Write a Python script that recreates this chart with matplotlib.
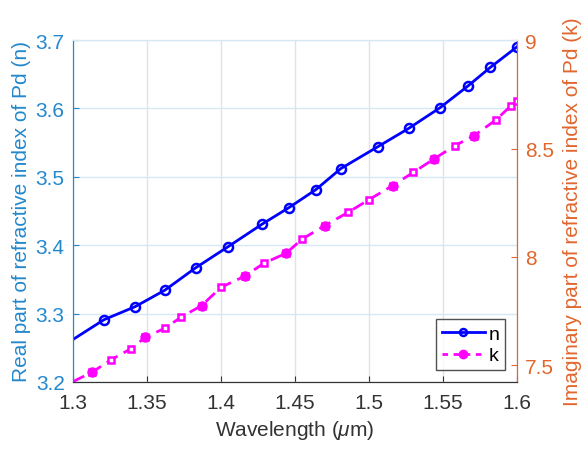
import matplotlib
matplotlib.use('Agg')
import matplotlib.pyplot as plt
from matplotlib.lines import Line2D

plt.rcParams['font.family'] = ['Liberation Sans', 'DejaVu Sans']
plt.rcParams['mathtext.fontset'] = 'custom'
plt.rcParams['mathtext.it'] = 'Liberation Sans:italic'

# real part n (left axis); first point has no marker
wl_n = [1.300, 1.321, 1.342, 1.362, 1.383, 1.405, 1.428, 1.446, 1.464, 1.481,
        1.506, 1.527, 1.548, 1.567, 1.582, 1.600]
n_vals = [3.262, 3.291, 3.310, 3.334, 3.367, 3.398, 3.431, 3.455, 3.481, 3.512,
          3.544, 3.571, 3.601, 3.633, 3.660, 3.690]

# imaginary part k (right axis); first point has no marker
wl_k = [1.300, 1.313, 1.326, 1.339, 1.349, 1.362, 1.373, 1.387, 1.400, 1.416,
        1.429, 1.444, 1.455, 1.470, 1.486, 1.500, 1.516, 1.530, 1.544, 1.558,
        1.571, 1.586, 1.596, 1.600]
k_vals = [7.425, 7.469, 7.527, 7.576, 7.630, 7.671, 7.722, 7.776, 7.860, 7.911,
          7.971, 8.017, 8.083, 8.144, 8.206, 8.264, 8.329, 8.390, 8.452, 8.513,
          8.559, 8.633, 8.697, 8.720]
k_filled = [1, 4, 7, 9, 11, 13, 16, 18, 20]

xticks = [1.3, 1.35, 1.4, 1.45, 1.5, 1.55, 1.6]
left_ticks = [3.2, 3.3, 3.4, 3.5, 3.6, 3.7]
right_ticks = [7.5, 8, 8.5, 9]

left_col = '#2388cc'
right_col = '#e0662e'

fig = plt.figure(figsize=(5.84, 4.52), dpi=100)
ax = fig.add_axes([0.125, 0.153, 0.760, 0.756])
ax2 = ax.twinx()

ax.plot(wl_n, n_vals, '-', color='#0000FF', lw=2, marker='o', ms=6.5,
        mfc='none', mew=1.8, markevery=list(range(1, len(wl_n))), zorder=3)
ax2.plot(wl_k, k_vals, '--', color='#FF00FF', lw=2, dashes=(4.5, 2.5), marker='s', ms=4,
         mfc='white', mew=1.8, markevery=list(range(1, len(wl_k))))
ax2.plot(wl_k, k_vals, linestyle='none', color='#FF00FF', marker='o', ms=6.5,
         markevery=k_filled)

ax.set_xlim(1.3, 1.6)
ax.set_ylim(3.2, 3.7)
ax2.set_ylim(7.424, 9.0)
ax.set_xticks(xticks)
ax.set_xticklabels(['1.3', '1.35', '1.4', '1.45', '1.5', '1.55', '1.6'])
ax.set_yticks(left_ticks)
ax.set_yticklabels(['3.2', '3.3', '3.4', '3.5', '3.6', '3.7'])
ax2.set_yticks(right_ticks)
ax2.set_yticklabels(['7.5', '8', '8.5', '9'])

ax.grid(True, axis='x', color='#dfe3e8', lw=1)
ax.grid(True, axis='y', color='#d6e8f4', lw=1)
ax.set_axisbelow(True)

ax.tick_params(axis='x', direction='in', labelsize=15, colors='#333333', length=4, pad=8)
ax.tick_params(axis='y', direction='in', labelsize=15, colors=left_col, length=4, pad=6)
ax2.tick_params(axis='y', direction='in', labelsize=15, colors=right_col, length=4, pad=6)

for a in (ax, ax2):
    a.spines['left'].set_color(left_col)
    a.spines['right'].set_color(right_col)
    a.spines['bottom'].set_color('#333333')
    a.spines['top'].set_color('#d6e8f4')

ax.set_xlabel(r'Wavelength ($\mu$m)', fontsize=15, color='#333333', labelpad=4)
ax.set_ylabel('Real part of refractive index of Pd (n)', fontsize=15, color=left_col, labelpad=3)
ax2.set_ylabel('Imaginary part of refractive index of Pd (k)', fontsize=15, color=right_col, labelpad=6)

handles = [
    Line2D([], [], color='#0000FF', lw=2, marker='o', ms=5, mfc='none', mew=1.8),
    Line2D([], [], color='#FF00FF', lw=2, ls='--', dashes=(2, 2), marker='o', ms=6),
]
leg = ax2.legend(handles, ['n', 'k'], loc='lower right', fontsize=14, frameon=True,
                 fancybox=False, edgecolor='#262626', handlelength=2.2, handletextpad=0.2,
                 borderpad=0.3, labelspacing=0.2, borderaxespad=0.6)
leg.get_frame().set_linewidth(1)

fig.savefig('out.png', dpi=100)
